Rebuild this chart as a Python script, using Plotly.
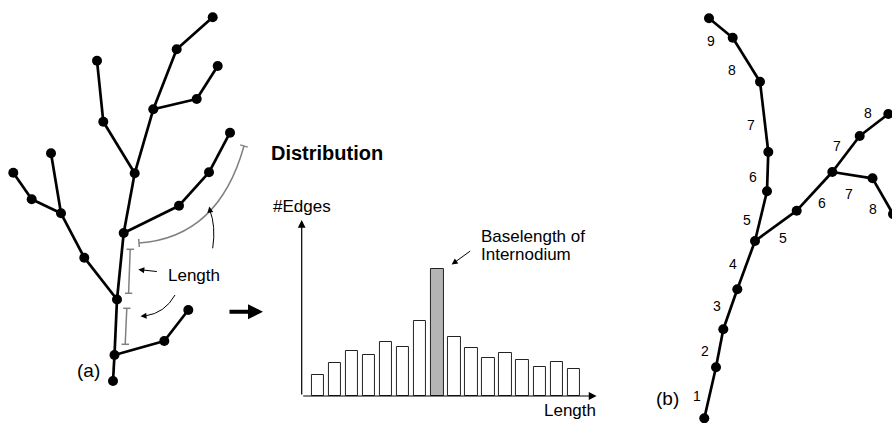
import plotly.graph_objects as go

W, H = 892, 423
FONT = "Liberation Sans, Arial, sans-serif"

# ---------------- data ----------------
# tree (a): node positions (pixel space) and edges
tree_a_x = [113, 114.5, 164.3, 188.3, 117, 84.3, 61, 51, 31.7, 13.3, 123.7, 179, 209, 230,
            134.7, 103.3, 97, 153.3, 196.7, 217.7, 176.7, 212.7]
tree_a_y = [381, 355, 341, 310, 299.5, 257.7, 213.3, 153.3, 199.3, 172.7, 233, 205.7, 172.3, 132.7,
            173.3, 121.7, 60.7, 109.3, 99, 66, 49.3, 17.3]
tree_a_edges = [(0, 1), (1, 4), (4, 10), (10, 14), (14, 17), (17, 20), (20, 21), (1, 2), (2, 3),
                (4, 5), (5, 6), (6, 7), (6, 8), (8, 9), (10, 11), (11, 12), (12, 13),
                (14, 15), (15, 16), (17, 18), (18, 19)]

# tree (b): node positions and edges
tree_b_x = [704.3, 716, 723.3, 737.3, 755, 767, 768.3, 760, 732.7, 709,
            796.7, 832.3, 859.7, 888.3, 872.5, 893]
tree_b_y = [418.3, 367.3, 329.3, 289.3, 241, 191.3, 152, 81.7, 37.7, 18.3,
            210.7, 172, 136, 114, 178.3, 214]
tree_b_edges = [(0, 1), (1, 2), (2, 3), (3, 4), (4, 5), (5, 6), (6, 7), (7, 8), (8, 9),
                (4, 10), (10, 11), (11, 12), (12, 13), (11, 14), (14, 15)]
# edge order labels of tree (b)
order_labels = ["1", "2", "3", "4", "5", "5", "6", "6", "7", "7", "7", "8", "8", "8", "9"]
order_x = [696.7, 705.3, 717.3, 733.3, 747, 783, 752.7, 821.7, 750.7, 837.3, 849.3, 732, 868, 873.3, 710.7]
order_y = [396, 350.7, 306, 264.3, 220, 237.7, 177.3, 202.7, 125, 145.7, 194, 70, 113.3, 209.3, 41]

# distribution histogram
bins = list(range(1, 17))
edge_counts = [21, 33, 45, 41, 54, 49, 75, 127, 59, 48, 38, 43, 36, 29, 34, 27]
highlight_bin = 8

# ---------------- figure ----------------
fig = go.Figure()


def edge_lines(xs, ys, edges):
    lx, ly = [], []
    for a, b in edges:
        lx += [xs[a], xs[b], None]
        ly += [ys[a], ys[b], None]
    return lx, ly


for xs, ys, edges in [(tree_a_x, tree_a_y, tree_a_edges), (tree_b_x, tree_b_y, tree_b_edges)]:
    lx, ly = edge_lines(xs, ys, edges)
    fig.add_trace(go.Scatter(x=lx, y=ly, mode="lines", line=dict(color="black", width=2.7),
                             hoverinfo="skip", showlegend=False, xaxis="x", yaxis="y"))
    fig.add_trace(go.Scatter(x=xs, y=ys, mode="markers", marker=dict(color="black", size=10),
                             hoverinfo="skip", showlegend=False, xaxis="x", yaxis="y"))

# histogram bars
fig.add_trace(go.Bar(
    x=bins, y=edge_counts, width=0.72,
    marker=dict(color=["#b4b4b4" if b == highlight_bin else "white" for b in bins],
                line=dict(color="#222222", width=1)),
    showlegend=False, hoverinfo="skip", xaxis="x2", yaxis="y2"))

# ---------------- shapes (gray length brackets, curved arrows) ----------------
GRAY = "#808080"
shapes = [
    dict(type="path", path="M 244,146 Q 218.5,237.5 139,243", line=dict(color=GRAY, width=1.5)),
    dict(type="line", x0=240.2, y0=144.9, x1=247.8, y1=147.1, line=dict(color=GRAY, width=1.5)),
    dict(type="line", x0=138.7, y0=239, x1=139.3, y1=247, line=dict(color=GRAY, width=1.5)),
    # bracket 1
    dict(type="line", x0=130.2, y0=249.3, x1=128.6, y1=293.3, line=dict(color=GRAY, width=1.5)),
    dict(type="line", x0=126.5, y0=249.3, x1=134, y1=249.3, line=dict(color=GRAY, width=1.5)),
    dict(type="line", x0=125, y0=293.3, x1=132.3, y1=293.3, line=dict(color=GRAY, width=1.5)),
    # bracket 2
    dict(type="line", x0=126.8, y0=308.3, x1=125.2, y1=344.3, line=dict(color=GRAY, width=1.5)),
    dict(type="line", x0=123.2, y0=308.3, x1=130.5, y1=308.3, line=dict(color=GRAY, width=1.5)),
    dict(type="line", x0=121.5, y0=344.3, x1=129, y1=344.3, line=dict(color=GRAY, width=1.5)),
    # curved thin arrows
    dict(type="path", path="M 212.7,248.3 Q 216,226 209.8,210", line=dict(color="black", width=1)),
    dict(type="path", path="M 175,295 Q 165,313 145,316", line=dict(color="black", width=1)),
]
for s in shapes:
    s.update(xref="x", yref="y", layer="below")
fig.update_layout(shapes=shapes)

ann = []


def arrow(x, y, ax, ay, xr="x", yr="y", width=1, size=1.2, head=2):
    return dict(x=x, y=y, ax=ax, ay=ay, xref=xr, yref=yr, axref=xr, ayref=yr, text="",
                showarrow=True, arrowhead=head, arrowsize=size, arrowwidth=width,
                arrowcolor="black", standoff=0, startstandoff=0)


ann.append(arrow(209.3, 206.5, 210.3, 212.5))
ann.append(arrow(140.5, 316.3, 146, 315.8))
ann.append(arrow(138.3, 269.5, 158.3, 271.7))
ann.append(arrow(263, 311.7, 228, 311.7, width=4, size=0.75))
ann.append(arrow(451.7, 264.5, 471.7, 250))
# histogram axes
ann.append(arrow(17.34, 0, 0.044, 0, xr="x2", yr="y2", width=1.2, size=1.3))
ann.append(arrow(0.044, 176, 0.044, 0, xr="x2", yr="y2", width=1.2, size=1.3))


def text(t, x, y, size=17, xanchor="center", bold=False):
    return dict(x=x, y=y, xref="x", yref="y", text=f"<b>{t}</b>" if bold else t, showarrow=False,
                xanchor=xanchor, yanchor="middle", font=dict(family=FONT, size=size, color="black"))


ann.append(text("(a)", 88.3, 370, size=19))
ann.append(text("(b)", 667.5, 398, size=19))
ann.append(text("Length", 193.5, 275))
ann.append(text("Distribution", 269, 153, size=20, xanchor="left", bold=True))
ann.append(text("#Edges", 270.5, 206.5, xanchor="left"))
ann.append(text("Length", 597.5, 410, xanchor="right"))
ann.append(text("Baselength of", 479, 236.5, xanchor="left"))
ann.append(text("Internodium", 479, 254.5, xanchor="left"))
for t, x, y in zip(order_labels, order_x, order_y):
    ann.append(text(t, x, y, size=14))

fig.update_layout(
    annotations=ann,
    width=W, height=H,
    margin=dict(l=0, r=0, t=0, b=0),
    paper_bgcolor="white", plot_bgcolor="rgba(0,0,0,0)",
    xaxis=dict(range=[0, W], domain=[0, 1], visible=False, fixedrange=True),
    yaxis=dict(range=[H, 0], domain=[0, 1], visible=False, fixedrange=True),
    xaxis2=dict(range=[0, 17.5], domain=[300.95 / W, 599.3 / W], anchor="y2", visible=False),
    yaxis2=dict(range=[0, 180], domain=[1 - 396 / H, 1 - 216 / H], anchor="x2", visible=False),
    bargap=0,
)

fig.write_html("out.html", config={"displayModeBar": False},
               post_script="document.body.style.margin='0';document.body.style.overflow='hidden';")
